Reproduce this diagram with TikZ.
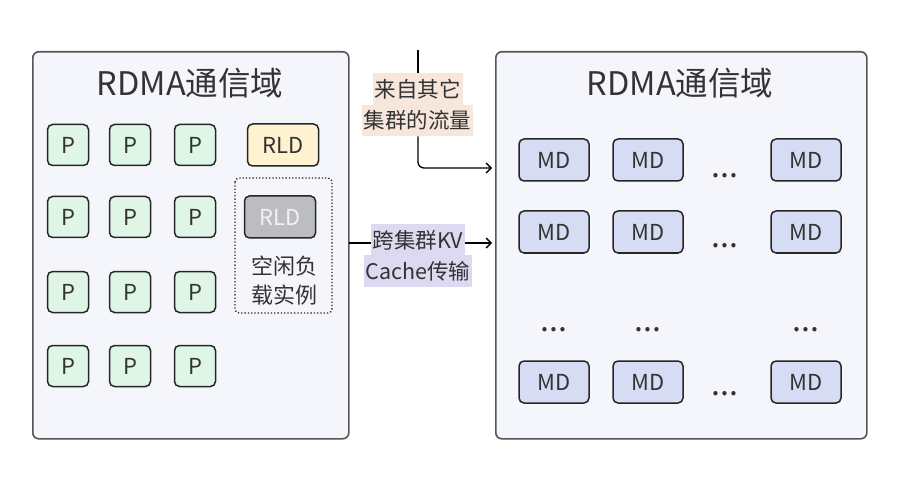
\documentclass[tikz,border=0pt]{standalone}
\usepackage{fontspec}
\setmainfont{Noto Sans CJK SC}
\usetikzlibrary{arrows.meta}
\definecolor{boxbg}{HTML}{F5F6FB}
\definecolor{boxline}{HTML}{555555}
\definecolor{pfill}{HTML}{DFF5E6}
\definecolor{rldfill}{HTML}{FFF2D0}
\definecolor{idlefill}{HTML}{BCBDC1}
\definecolor{mdfill}{HTML}{D6DCF3}
\definecolor{lblA}{HTML}{F6E6DB}
\definecolor{lblB}{HTML}{DDD9F0}
\definecolor{txt}{HTML}{333333}
\begin{document}
\begin{tikzpicture}[x=1pt,y=-1pt,
  domainbox/.style={draw=boxline,line width=1.6pt,fill=boxbg,rounded corners=6pt},
  titletxt/.style={font=\fontsize{32.5}{34}\selectfont,text=txt},
  pbox/.style={draw=black!85,line width=1.5pt,fill=pfill,rounded corners=5pt,minimum width=41pt,minimum height=41pt,inner sep=0pt,font=\fontsize{22}{24}\selectfont,text=txt},
  rldbox/.style={draw=black!85,line width=1.5pt,fill=rldfill,rounded corners=5pt,minimum width=71pt,minimum height=42pt,inner sep=0pt,font=\fontsize{22}{24}\selectfont,text=txt},
  idlebox/.style={rldbox,fill=idlefill,text=white!95!black},
  mdbox/.style={draw=black!85,line width=1.5pt,fill=mdfill,rounded corners=5pt,minimum width=70pt,minimum height=42pt,inner sep=0pt,font=\fontsize{22}{24}\selectfont,text=txt},
  dotstxt/.style={font=\fontsize{32}{34}\selectfont,text=txt,inner sep=0pt},
  lblbox/.style={inner xsep=2pt,inner ysep=0pt,minimum height=31.5pt,font=\fontsize{21.5}{23}\selectfont,text=txt},
  arr/.style={line width=1.3pt,-{Straight Barb[length=5pt,width=10pt,line width=1.3pt]}},
  conn/.style={line width=1.3pt}
]
\useasboundingbox (0,0) rectangle (904,478);
% domains
\node[domainbox,minimum width=316pt,minimum height=387pt,anchor=north west,inner sep=0pt] (lbox) at (32,51) {};
\node[domainbox,minimum width=371pt,minimum height=387pt,anchor=north west,inner sep=0pt] (rbox) at (495,51) {};
\node[titletxt] (lt) at (190,83) {RDMA通信域};
\node[titletxt] (rt) at (680,83) {RDMA通信域};
% P grid
\foreach \c/\x in {1/68,2/130,3/195}{
  \foreach \r/\y in {1/145,2/217,3/292,4/366}{
    \node[pbox] (p\c\r) at (\x,\y) {P};
  }
}
\node[rldbox] (rld1) at (283,145) {RLD};
\node[idlebox] (rld2) at (280,217) {RLD};
\node[font=\fontsize{22}{24}\selectfont,text=txt,align=center,inner sep=0pt] (idletxt) at (284,281) {空闲负\\[5pt]载实例};
\draw[line width=1.3pt,dotted,rounded corners=4pt,draw=black!85] (235,178) rectangle (332,313);
% MD grid
\foreach \c/\x in {1/554,2/648,3/806}{
  \foreach \r/\y in {1/160,2/232,4/382}{
    \node[mdbox] (md\c\r) at (\x,\y) {MD};
  }
}
\node[dotstxt] (d1) at (725,176) {...};
\node[dotstxt] (d2) at (725,246) {...};
\node[dotstxt] (d3) at (725,394) {...};
\node[dotstxt] (e1) at (554,330) {...};
\node[dotstxt] (e2) at (648,330) {...};
\node[dotstxt] (e3) at (806,330) {...};
% labels
\node[lblbox,fill=lblA] (la1) at (417.5,89) {来自其它};
\node[lblbox,fill=lblA] (la2) at (417.5,120.5) {集群的流量};
\node[lblbox,fill=lblB] (lb1) at (418,240) {跨集群KV};
\node[lblbox,fill=lblB] (lb2) at (418,271) {Cache传输};
% connectors
\coordinate (topc) at (418,50);
\coordinate (t1) at (492,168);
\draw[conn] (topc) -- (topc |- la1.north);
\draw[arr,rounded corners=6pt] (la2.south -| topc) |- (t1);
\coordinate (s2) at (349,243);
\coordinate (t2) at (492,243);
\draw[conn] (s2) -- (s2 -| lb1.west);
\draw[arr] (t2 -| lb1.east) -- (t2);
\end{tikzpicture}
\end{document}
